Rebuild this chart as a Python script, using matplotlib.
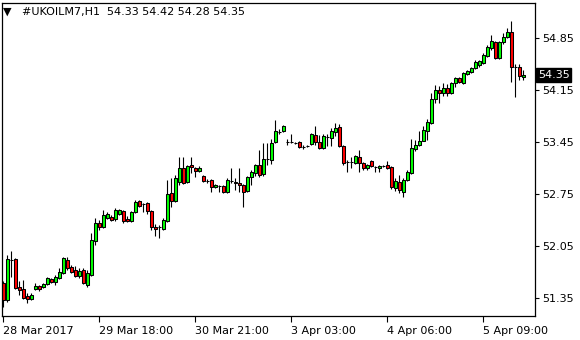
import numpy as np
import matplotlib.pyplot as plt

# H1 candles, #UKOILM7
opens = [51.55, 51.32, 51.86, 51.87, 51.50, 51.47, 51.38, 51.34, 51.47, 51.51,
         51.50, 51.54, 51.61, 51.57, 51.62, 51.69, 51.86, 51.77, 51.73, 51.65,
         51.73, 51.52, 51.66, 52.12, 52.36, 52.31, 52.43, 52.44, 52.41, 52.48,
         52.52, 52.41, 52.39, 52.51, 52.66, 52.62, 52.63, 52.52, 52.31, 52.31,
         52.28, 52.39, 52.76, 52.66, 52.91, 53.10, 52.91, 53.14, 53.10, 53.06,
         52.99, 52.92, 52.94, 52.84, 52.86, 52.86, 52.78, 52.92, 52.91, 52.90,
         52.87, 52.79, 52.98, 53.03, 53.14, 53.02, 53.22, 53.21, 53.45, 53.58,
         53.60, 53.45, 53.45, 53.44, 53.45, 53.38, 53.40, 53.42, 53.54, 53.45,
         53.37, 53.52, 53.50, 53.58, 53.65, 53.40, 53.18, 53.18, 53.17, 53.25,
         53.17, 53.10, 53.19, 53.11, 53.10, 53.13, 53.14, 53.11, 52.83, 52.91,
         52.78, 52.94, 53.03, 53.36, 53.41, 53.46, 53.60, 53.70, 54.03, 54.15,
         54.11, 54.18, 54.11, 54.24, 54.31, 54.24, 54.37, 54.39, 54.45, 54.49,
         54.51, 54.61, 54.72, 54.80, 54.58, 54.80, 54.86, 54.93, 54.46, 54.46,
         54.33]
highs = [51.58, 51.93, 51.98, 51.89, 51.58, 51.59, 51.42, 51.42, 51.55, 51.52,
         51.55, 51.63, 51.62, 51.66, 51.75, 51.90, 51.90, 51.80, 51.78, 51.75,
         51.75, 51.73, 52.22, 52.43, 52.40, 52.53, 52.51, 52.47, 52.56, 52.55,
         52.53, 52.45, 52.52, 52.67, 52.67, 52.63, 52.64, 52.53, 52.35, 52.33,
         52.43, 52.94, 52.97, 53.01, 53.25, 53.25, 53.14, 53.25, 53.11, 53.13,
         53.01, 52.95, 52.95, 52.88, 52.87, 52.87, 52.97, 53.10, 52.97, 53.10,
         52.88, 52.99, 53.07, 53.15, 53.34, 53.44, 53.44, 53.49, 53.75, 53.62,
         53.68, 53.49, 53.56, 53.45, 53.46, 53.41, 53.41, 53.57, 53.66, 53.54,
         53.56, 53.56, 53.64, 53.70, 53.69, 53.41, 53.21, 53.25, 53.28, 53.34,
         53.18, 53.15, 53.21, 53.13, 53.14, 53.14, 53.19, 53.13, 52.97, 53.01,
         52.97, 53.07, 53.49, 53.48, 53.60, 53.66, 53.76, 54.11, 54.22, 54.20,
         54.24, 54.23, 54.26, 54.33, 54.33, 54.39, 54.42, 54.46, 54.55, 54.55,
         54.65, 54.76, 54.89, 54.81, 54.81, 54.92, 54.98, 55.08, 54.50, 54.50,
         54.42]
lows = [51.23, 51.30, 51.63, 51.47, 51.39, 51.34, 51.28, 51.32, 51.46, 51.45,
        51.49, 51.52, 51.55, 51.52, 51.61, 51.67, 51.73, 51.69, 51.63, 51.62,
        51.54, 51.50, 51.65, 52.06, 52.26, 52.29, 52.41, 52.39, 52.39, 52.47,
        52.36, 52.37, 52.37, 52.49, 52.58, 52.51, 52.48, 52.26, 52.18, 52.16,
        52.26, 52.37, 52.58, 52.64, 52.87, 52.88, 52.90, 53.03, 52.98, 53.05,
        52.91, 52.90, 52.78, 52.83, 52.78, 52.76, 52.76, 52.90, 52.80, 52.78,
        52.58, 52.78, 52.87, 52.99, 52.98, 52.99, 53.14, 53.15, 53.44, 53.56,
        53.58, 53.41, 53.44, 53.42, 53.37, 53.36, 53.38, 53.41, 53.41, 53.36,
        53.36, 53.40, 53.40, 53.53, 53.38, 53.14, 53.05, 53.10, 53.15, 53.05,
        53.07, 53.07, 53.11, 53.05, 53.05, 53.11, 53.09, 52.82, 52.79, 52.76,
        52.71, 52.92, 53.02, 53.33, 53.40, 53.46, 53.48, 53.69, 53.98, 53.98,
        54.07, 54.07, 54.10, 54.19, 54.24, 54.23, 54.35, 54.38, 54.43, 54.46,
        54.50, 54.59, 54.69, 54.57, 54.57, 54.77, 54.85, 54.26, 54.06, 54.28,
        54.28]
closes = [51.32, 51.87, 51.86, 51.49, 51.46, 51.35, 51.34, 51.39, 51.51, 51.47,
          51.54, 51.62, 51.57, 51.63, 51.70, 51.89, 51.75, 51.70, 51.65, 51.71,
          51.55, 51.69, 52.13, 52.36, 52.31, 52.47, 52.48, 52.40, 52.53, 52.53,
          52.39, 52.39, 52.51, 52.64, 52.59, 52.62, 52.52, 52.31, 52.28, 52.31,
          52.40, 52.75, 52.66, 52.97, 53.10, 52.90, 53.13, 53.11, 53.06, 53.10,
          52.92, 52.92, 52.84, 52.87, 52.86, 52.78, 52.94, 52.92, 52.90, 52.87,
          52.78, 52.98, 53.05, 53.14, 53.01, 53.22, 53.22, 53.44, 53.60, 53.58,
          53.66, 53.45, 53.45, 53.44, 53.38, 53.38, 53.40, 53.56, 53.45, 53.37,
          53.53, 53.52, 53.60, 53.64, 53.40, 53.17, 53.18, 53.18, 53.26, 53.17,
          53.10, 53.14, 53.13, 53.11, 53.13, 53.13, 53.10, 52.84, 52.92, 52.80,
          52.94, 53.05, 53.37, 53.41, 53.46, 53.61, 53.72, 54.03, 54.15, 54.11,
          54.18, 54.11, 54.24, 54.31, 54.26, 54.38, 54.41, 54.45, 54.53, 54.54,
          54.62, 54.73, 54.81, 54.58, 54.80, 54.86, 54.93, 54.46, 54.46, 54.34,
          54.35]

price_ticks = [51.35, 52.05, 52.75, 53.45, 54.15, 54.85]
time_tick_bars = [0, 24, 48, 72, 96, 120]
time_tick_labels = ['28 Mar 2017', '29 Mar 18:00', '30 Mar 21:00',
                    '3 Apr 03:00', '4 Apr 06:00', '5 Apr 09:00']
symbol = '#UKOILM7,H1'

o = np.array(opens)
h = np.array(highs)
l = np.array(lows)
c = np.array(closes)
x = np.arange(len(o))

plt.rcParams['font.family'] = 'DejaVu Sans'
fig = plt.figure(figsize=(5.8, 3.4), dpi=100)
ax = fig.add_axes([2 / 580, 24 / 340, 533 / 580, 313.5 / 340])

# wicks
ax.vlines(x, l, h, color='black', linewidth=0.8, zorder=1)
# bodies
body_colors = np.where(c >= o, '#00ff00', '#ff0000')
ax.bar(x, np.abs(c - o), bottom=np.minimum(o, c), width=0.75,
       color=body_colors, edgecolor='black', linewidth=0.75, zorder=2)

ax.set_xlim(-0.25, -0.25 + 533 / 4)
ax.set_ylim(51.108, 55.328)

for s in ax.spines.values():
    s.set_color('black')
    s.set_linewidth(0.9)

ax.yaxis.tick_right()
ax.set_yticks(price_ticks)
ax.set_yticklabels([f'{v:.2f}' for v in price_ticks])
ax.tick_params(axis='y', direction='out', length=3, width=0.8, pad=2,
               labelsize=8, colors='black')
ax.set_xticks(time_tick_bars)
ax.set_xticklabels(time_tick_labels, ha='left')
ax.tick_params(axis='x', direction='out', length=4, width=0.8, pad=3,
               labelsize=8, colors='black')

# current price label
ax.annotate(f'{c[-1]:.2f}', xy=(1.0, c[-1]), xycoords=('axes fraction', 'data'),
            xytext=(2, 0), textcoords='offset points', va='center', ha='left',
            fontsize=8, color='white',
            bbox=dict(boxstyle='square,pad=0.15', fc='black', ec='black'),
            annotation_clip=False)

# header
fig.text(3 / 580, 1 - 12 / 340, '\u25bc', fontsize=8, va='center', ha='left')
fig.text(22 / 580, 1 - 12 / 340,
         f'{symbol}  {o[-1]:.2f} {h[-1]:.2f} {l[-1]:.2f} {c[-1]:.2f}',
         fontsize=8, va='center', ha='left')

fig.savefig('out.png', dpi=100)
